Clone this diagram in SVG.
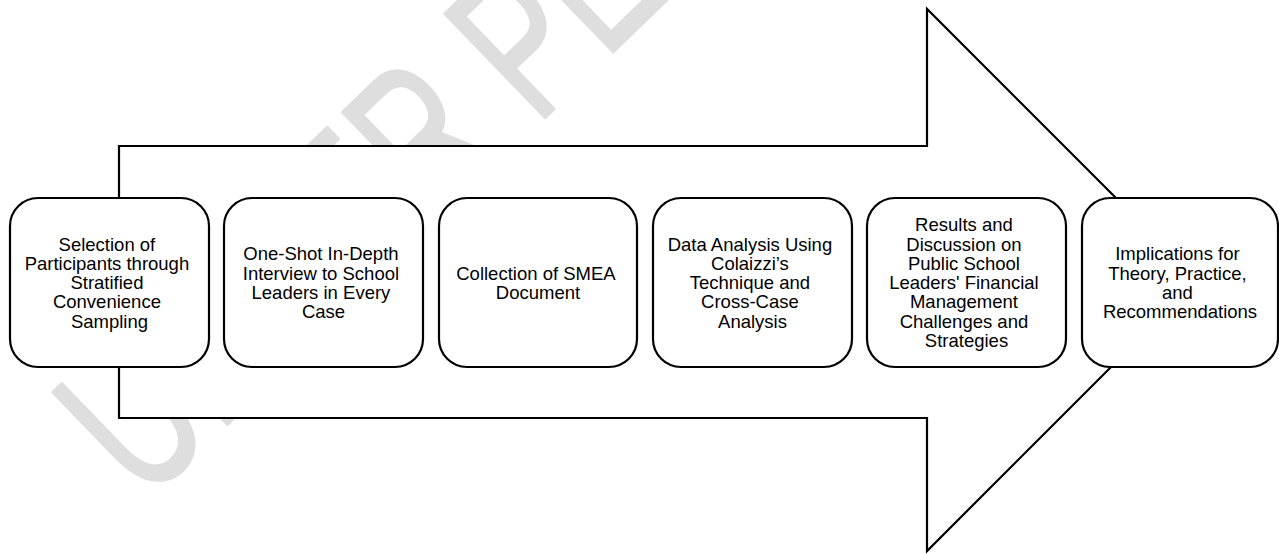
<svg xmlns="http://www.w3.org/2000/svg" width="1279" height="554" viewBox="0 0 1279 554">
  <style>
    .wm { font-family: "Liberation Sans", Arial, sans-serif; font-size: 210px; fill: #dedede; stroke: #dedede; stroke-width: 3; stroke-linejoin: round; }
    .arrow { fill: #ffffff; stroke: #000000; stroke-width: 2.2; stroke-linejoin: miter; }
    .box { fill: #ffffff; stroke: #000000; stroke-width: 2.2; }
    .lbl { font-family: "Liberation Sans", Arial, sans-serif; font-size: 18.5px; fill: #000000; text-anchor: middle; }
  </style>
  <rect width="1279" height="554" fill="#ffffff"/>
  <g id="watermark">
    <text class="wm" transform="translate(145,504) rotate(-44) scale(0.676,1)">UNDER PEER REVIEW</text>
  </g>
  <g id="connectors">
    <path class="arrow" d="M119,146 H927 V9 L1198,280 L927,551 V418 H119 Z"/>
  </g>
  <g id="node1">
    <rect class="box" x="10" y="198" width="199" height="169" rx="28" ry="28"/>
    <text class="lbl" x="109.5" y="250.5">
      <tspan x="109.5" y="250.5">Selection of</tspan>
      <tspan x="109.5" y="269.8">Participants through</tspan>
      <tspan x="109.5" y="289.1">Stratified</tspan>
      <tspan x="109.5" y="308.4">Convenience</tspan>
      <tspan x="109.5" y="327.7">Sampling</tspan>
    </text>
  </g>
  <g id="node2">
    <rect class="box" x="224" y="198" width="199" height="169" rx="28" ry="28"/>
    <text class="lbl" x="323.5" y="260.2">
      <tspan x="323.5" y="260.2">One-Shot In-Depth</tspan>
      <tspan x="323.5" y="279.5">Interview to School</tspan>
      <tspan x="323.5" y="298.8">Leaders in Every</tspan>
      <tspan x="323.5" y="318.1">Case</tspan>
    </text>
  </g>
  <g id="node3">
    <rect class="box" x="439" y="198" width="198" height="169" rx="28" ry="28"/>
    <text class="lbl" x="538" y="279.5">
      <tspan x="538" y="279.5">Collection of SMEA</tspan>
      <tspan x="538" y="298.8">Document</tspan>
    </text>
  </g>
  <g id="node4">
    <rect class="box" x="653" y="198" width="199" height="169" rx="28" ry="28"/>
    <text class="lbl" x="752.5" y="250.5">
      <tspan x="752.5" y="250.5">Data Analysis Using</tspan>
      <tspan x="752.5" y="269.8">Colaizzi’s</tspan>
      <tspan x="752.5" y="289.1">Technique and</tspan>
      <tspan x="752.5" y="308.4">Cross-Case</tspan>
      <tspan x="752.5" y="327.7">Analysis</tspan>
    </text>
  </g>
  <g id="node5">
    <rect class="box" x="867" y="198" width="199" height="169" rx="28" ry="28"/>
    <text class="lbl" x="966.5" y="231.2">
      <tspan x="966.5" y="231.2">Results and</tspan>
      <tspan x="966.5" y="250.5">Discussion on</tspan>
      <tspan x="966.5" y="269.8">Public School</tspan>
      <tspan x="966.5" y="289.1">Leaders' Financial</tspan>
      <tspan x="966.5" y="308.4">Management</tspan>
      <tspan x="966.5" y="327.7">Challenges and</tspan>
      <tspan x="966.5" y="347.0">Strategies</tspan>
    </text>
  </g>
  <g id="node6">
    <rect class="box" x="1082" y="198" width="196" height="169" rx="28" ry="28"/>
    <text class="lbl" x="1180" y="260.2">
      <tspan x="1180" y="260.2">Implications for</tspan>
      <tspan x="1180" y="279.5">Theory, Practice,</tspan>
      <tspan x="1180" y="298.8">and</tspan>
      <tspan x="1180" y="318.1">Recommendations</tspan>
    </text>
  </g>
</svg>
